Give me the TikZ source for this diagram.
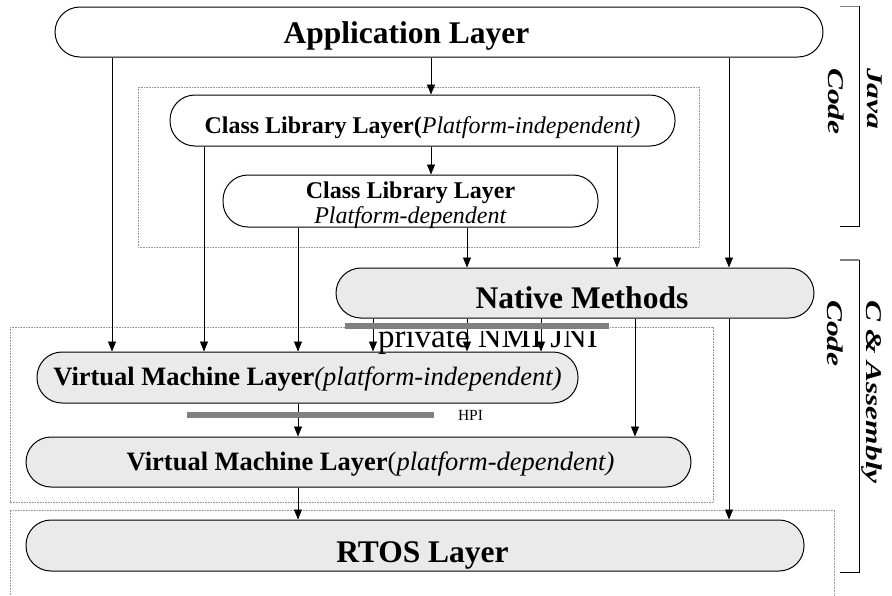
\documentclass[tikz,border=0pt]{standalone}
\usepackage{graphicx}
\usepackage{fontspec}
\setmainfont{Liberation Serif}
\usetikzlibrary{arrows.meta}
\definecolor{boxfill}{RGB}{234,234,234}
\definecolor{bargray}{RGB}{128,128,128}
\definecolor{dotgray}{RGB}{150,150,150}
\newcommand{\fsBig}{\fontsize{31.5}{36}\selectfont\bfseries}
\newcommand{\fsCL}{\fontsize{24}{25}\selectfont}
\newcommand{\fsVM}{\fontsize{26.5}{30}\selectfont}
\newcommand{\fsNMI}{\fontsize{33}{36}\selectfont}
\newcommand{\fsHPI}{\fontsize{15.5}{18}\selectfont}
\newcommand{\fsSide}{\fontsize{22.5}{39}\selectfont\bfseries\itshape}
\begin{document}
\begin{tikzpicture}[x=1pt,y=-1pt,
  lay/.style={draw, line width=1pt, rounded corners=25pt, inner sep=0pt, align=center},
  laygray/.style={lay, fill=boxfill},
  conn/.style={line width=0.8pt, -{Triangle[length=10pt,width=8pt]}},
  grp/.style={draw=dotgray, line width=0.8pt, dash pattern=on 0.8pt off 0.8pt},
  bar/.style={draw=bargray, line width=6pt},
  brk/.style={line width=1pt},
  side/.style={rotate=-90, anchor=north west, inner sep=0pt, align=left, font=\fsSide}]
\useasboundingbox (0,0) rectangle (892,595);

% dotted group frames
\draw[grp] (138,87) rectangle (699,247);
\draw[grp] (10,327) rectangle (713,502);
\draw[grp] (10,595) -- (10,510) -- (834,510) -- (834,595);

% layers
\node[lay, minimum width=768pt, minimum height=50pt, text height=29pt, text depth=7pt, font=\fsBig]
  (app) at (439,32) {Application Layer\hspace*{65pt}};
\node[lay, minimum width=505pt, minimum height=51pt, text height=31pt, text depth=6pt, font=\fsCL]
  (cli) at (422.5,120.5) {\textbf{Class Library Layer(}\textit{Platform-independent)}};
\node[lay, minimum width=375pt, minimum height=52pt, text height=48pt, text depth=4pt, font=\fsCL]
  (cld) at (410.5,201) {\textbf{Class Library Layer}\\\textit{Platform-dependent}};
\node[laygray, minimum width=478pt, minimum height=50pt, text height=37pt, text depth=7pt, font=\fsBig]
  (nm) at (575,293) {\hspace*{14pt}Native Methods};
\node[laygray, minimum width=541pt, minimum height=51pt, text height=21pt, text depth=6pt, font=\fsVM]
  (vmi) at (307.5,377.5) {\textbf{Virtual Machine Layer}\textit{(platform-independent)}};
\node[laygray, minimum width=665pt, minimum height=50pt, text height=22pt, text depth=6pt, font=\fsVM]
  (vmd) at (358.5,462) {\hspace*{24pt}\textbf{Virtual Machine Layer}(\textit{platform-dependent)}};
\node[laygray, minimum width=778pt, minimum height=51pt, text height=40pt, text depth=7pt, font=\fsBig]
  (rtos) at (415,545.5) {\hspace*{15pt}RTOS Layer};

% connectors
\draw[conn] (431,0 |- app.south) -- (431,0 |- cli.north);
\draw[conn] (431,0 |- cli.south) -- (431,0 |- cld.north);
\draw[conn] (112,0 |- app.south) -- (112,0 |- vmi.north);
\draw[conn] (729,0 |- app.south) -- (729,0 |- nm.north);
\draw[conn] (204,0 |- cli.south) -- (204,0 |- vmi.north);
\draw[conn] (617,0 |- cli.south) -- (617,0 |- nm.north);
\draw[conn] (298,0 |- cld.south) -- (298,0 |- vmi.north);
\draw[conn] (467,0 |- cld.south) -- (467,0 |- nm.north);
\draw[conn] (373,0 |- nm.south) -- (373,0 |- vmi.north);
\draw[conn] (467,0 |- nm.south) -- (467,0 |- vmi.north);
\draw[conn] (541,0 |- nm.south) -- (541,0 |- vmi.north);
\draw[conn] (635,0 |- nm.south) -- (635,0 |- vmd.north);
\draw[conn] (729,0 |- nm.south) -- (729,0 |- rtos.north);
\draw[conn] (298,0 |- vmi.south) -- (298,0 |- vmd.north);
\draw[conn] (298,0 |- vmd.south) -- (298,0 |- rtos.north);

% interface bars
\draw[bar] (345,326.3) -- (609,326.3);
\draw[bar] (187,414.7) -- (434,414.7);

% interface labels
\begin{scope}
  \clip (365,331) rectangle (615,362);
  \node[anchor=base, inner sep=0pt, font=\fsNMI] (nmi) at (488,347) {private NMI JNI};
\end{scope}
\node[anchor=base, inner sep=0pt, font=\fsHPI] (hpi) at (470.5,420) {HPI};

% side brackets
\draw[brk, draw=bargray] (840,6) -- (859,6);
\draw[brk] (859,6) -- (859,226) -- (840,226);
\draw[brk, draw=bargray, line width=2pt] (840,260) -- (859,260);
\draw[brk] (859,260) -- (859,572) -- (840,572);
\node[side] (java) at (882,68) {\scalebox{1.4}[1]{Java}\\\scalebox{1.4}[1]{Code}};
\node[side] (casm) at (882,300) {\scalebox{1.4}[1]{C \& Assembly}\\\scalebox{1.4}[1]{Code}};
\end{tikzpicture}
\end{document}
